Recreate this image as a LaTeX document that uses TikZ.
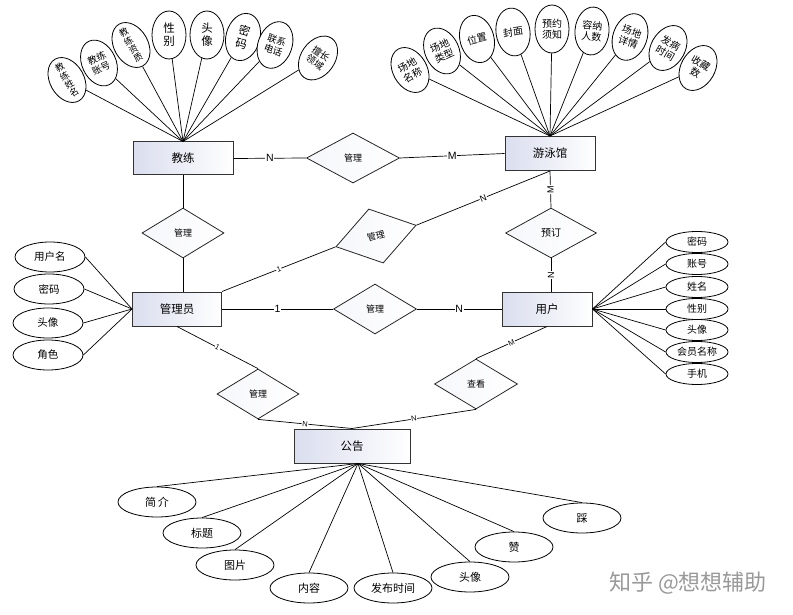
\documentclass[tikz,border=0pt]{standalone}
\usepackage{fontspec}
\setmainfont{Noto Sans CJK SC}
\newfontfamily\latinfont{Liberation Sans}
\usepackage{tikz}
\usetikzlibrary{shapes.geometric, positioning}
\definecolor{boxshade}{RGB}{218,222,238}

\begin{document}
\begin{tikzpicture}[
    x=1pt, y=-1pt,
    entity/.style={rectangle, draw=black!80, line width=1pt, left color=boxshade, right color=white, minimum width=90pt, minimum height=34pt, inner sep=0pt, font=\fontsize{11.5}{12}\selectfont},
    relation/.style={diamond, draw=black!85, line width=0.8pt, left color=boxshade!25, right color=white, minimum width=83pt, minimum height=50pt, inner sep=0pt, font=\fontsize{9}{10}\selectfont},
    attrib/.style={ellipse, draw, line width=0.8pt, fill=white, inner sep=0pt, font=\fontsize{10.5}{11}\selectfont},
    tallattrib/.style={attrib, minimum width=34pt, minimum height=48pt, align=center, font=\fontsize{9.5}{10.5}\selectfont},
    colattrib/.style={tallattrib, inner ysep=-5pt, font=\fontsize{9}{9.5}\selectfont},
    pairattrib/.style={tallattrib, font=\fontsize{11.5}{13}\selectfont},
    wideattrib/.style={attrib, minimum width=78pt, minimum height=30pt, font=\fontsize{11}{12}\selectfont},
    sideattrib/.style={attrib, minimum width=70pt, minimum height=30pt},
    slimattrib/.style={attrib, minimum width=62pt, minimum height=21pt, font=\fontsize{10}{11}\selectfont},
    link/.style={line width=0.7pt},
    card/.style={fill=white, inner sep=0.6pt, font=\latinfont\fontsize{10.5}{11}\selectfont},
    smallcard/.style={card, font=\latinfont\fontsize{7.5}{8}\selectfont}
]
    \useasboundingbox (0,0) rectangle (793,615);

    \node[entity, minimum width=100pt, minimum height=33pt] (coach) at (183,158.5) {教练};
    \node[entity] (pool) at (550,153.5) {游泳馆};
    \node[entity, minimum width=89pt] (admin) at (177,309) {管理员};
    \node[entity] (user) at (547,309) {用户};
    \node[entity, minimum width=116pt] (notice) at (352,446) {公告};

    \node[relation, minimum width=93pt] (r1) at (353,158) {管理};
    \node[relation, minimum width=82pt] (r2) at (183,233) {管理};
    \node[relation, rotate=15, minimum height=56pt] (r3) at (376,236) {管理};
    \node[relation, minimum width=91pt, font=\fontsize{10}{11}\selectfont] (r4) at (551,233) {预订};
    \node[relation] (r5) at (375,309) {管理};
    \node[relation, minimum width=82pt] (r6) at (258,394) {管理};
    \node[relation] (r7) at (476,384) {查看};

    \node[colattrib, rotate=30] (c1) at (67,80) {教\\练\\姓\\名};
    \node[tallattrib, rotate=25] (c2) at (99,63) {教练\\账号};
    \node[colattrib, rotate=30] (c3) at (131,45) {教\\练\\资\\质};
    \node[pairattrib] (c4) at (169,35) {性\\别};
    \node[pairattrib] (c5) at (207,35) {头\\像};
    \node[pairattrib, rotate=-15] (c6) at (243,37) {密\\码};
    \node[tallattrib, rotate=-20] (c7) at (275,45) {联系\\电话};
    \node[tallattrib, rotate=-35] (c8) at (318,58) {擅长\\领域};

    \node[tallattrib, rotate=30, font=\fontsize{10}{11}\selectfont] (p1) at (410,70) {场地\\名称};
    \node[tallattrib, rotate=25, font=\fontsize{10}{11}\selectfont] (p2) at (442,51) {场地\\类型};
    \node[tallattrib, rotate=15, font=\fontsize{10}{11}\selectfont] (p3) at (477,39) {位置};
    \node[tallattrib, rotate=8, font=\fontsize{10}{11}\selectfont] (p4) at (513,32) {封面};
    \node[tallattrib, font=\fontsize{10}{11}\selectfont] (p5) at (552,29) {预约\\须知};
    \node[tallattrib, rotate=-5, font=\fontsize{10}{11}\selectfont] (p6) at (592,31) {容纳\\人数};
    \node[tallattrib, rotate=-20, font=\fontsize{10}{11}\selectfont] (p7) at (630,37) {场地\\详情};
    \node[tallattrib, rotate=-30, font=\fontsize{10}{11}\selectfont] (p8) at (668,48) {发病\\时间};
    \node[tallattrib, rotate=-30, font=\fontsize{10}{11}\selectfont] (p9) at (698,68) {收藏\\数};

    \node[sideattrib] (a1) at (50,257) {用户名};
    \node[sideattrib] (a2) at (49,289) {密码};
    \node[sideattrib] (a3) at (48,323) {头像};
    \node[sideattrib] (a4) at (48,355) {角色};

    \node[slimattrib] (u1) at (697,242) {密码};
    \node[slimattrib] (u2) at (697,264) {账号};
    \node[slimattrib] (u3) at (697,287) {姓名};
    \node[slimattrib] (u4) at (697,309) {性别};
    \node[slimattrib] (u5) at (697,330) {头像};
    \node[slimattrib] (u6) at (697,352) {会员名称};
    \node[slimattrib] (u7) at (697,374) {手机};

    \node[wideattrib] (n1) at (157,502) {简\,介};
    \node[wideattrib] (n2) at (202,533) {标题};
    \node[wideattrib] (n3) at (235,565) {图片};
    \node[wideattrib] (n4) at (309,588) {内容};
    \node[wideattrib] (n5) at (393,588) {发布时间};
    \node[wideattrib] (n6) at (470,577) {头像};
    \node[wideattrib] (n7) at (514,547) {赞};
    \node[wideattrib] (n8) at (582,518) {踩};

    \coordinate (nfan) at ([xshift=6pt]notice.south);

    \draw[link] (c1) -- (coach.north);
    \draw[link] (c2) -- (coach.north);
    \draw[link] (c3) -- (coach.north);
    \draw[link] (c4) -- (coach.north);
    \draw[link] (c5) -- (coach.north);
    \draw[link] (c6) -- (coach.north);
    \draw[link] (c7) -- (coach.north);
    \draw[link] (c8) -- (coach.north);

    \draw[link] (p1) -- (pool.north);
    \draw[link] (p2) -- (pool.north);
    \draw[link] (p3) -- (pool.north);
    \draw[link] (p4) -- (pool.north);
    \draw[link] (p5) -- (pool.north);
    \draw[link] (p6) -- (pool.north);
    \draw[link] (p7) -- (pool.north);
    \draw[link] (p8) -- (pool.north);
    \draw[link] (p9) -- (pool.north);

    \draw[link] (a1.east) -- (admin.west);
    \draw[link] (a2.east) -- (admin.west);
    \draw[link] (a3.east) -- (admin.west);
    \draw[link] (a4.east) -- (admin.west);

    \draw[link] (u1.west) -- (user.east);
    \draw[link] (u2.west) -- (user.east);
    \draw[link] (u3.west) -- (user.east);
    \draw[link] (u4.west) -- (user.east);
    \draw[link] (u5.west) -- (user.east);
    \draw[link] (u6.west) -- (user.east);
    \draw[link] (u7.west) -- (user.east);

    \draw[link] (n1.north) -- (nfan);
    \draw[link] (n2.north) -- (nfan);
    \draw[link] (n3.north) -- (nfan);
    \draw[link] (n4.north) -- (nfan);
    \draw[link] (n5.north) -- (nfan);
    \draw[link] (n6.north) -- (nfan);
    \draw[link] (n7.north) -- (nfan);
    \draw[link] (n8.north) -- (nfan);

    \draw[link] (coach.east) -- node[card] {N} (r1.west);
    \draw[link] (r1.east) -- node[card] {M} (pool.west);
    \draw[link] (coach.south) -- (r2.north);
    \draw[link] (r2.south) -- (r2.south |- admin.north);
    \draw[link] (admin.north east) -- node[smallcard, sloped] {1} (r3.west);
    \draw[link] (r3.east) -- node[smallcard, sloped, font=\latinfont\fontsize{9}{9}\selectfont] {N} (pool.south);
    \draw[link] (pool.south) -- node[smallcard, rotate=90, font=\latinfont\fontsize{9}{9}\selectfont] {M} (r4.north);
    \draw[link] (r4.south) -- node[smallcard, rotate=90, font=\latinfont\fontsize{9}{9}\selectfont] {N} (r4.south |- user.north);
    \draw[link] (admin.east) -- node[card] {1} (r5.west);
    \draw[link] (r5.east) -- node[card] {N} (user.west);
    \draw[link] (admin.south) -- node[smallcard, sloped] {1} (r6.north);
    \draw[link] (r6.south) -- node[smallcard, sloped] {N} (notice.north);
    \draw[link] (user.south) -- node[smallcard, sloped] {M} (r7.north);
    \draw[link] (r7.south) -- node[smallcard, sloped] {N} (notice.north);

    \node[text=black!40, font=\fontsize{22}{22}\selectfont] (mark) at (688,583) {知乎 @想想辅助};
\end{tikzpicture}
\end{document}
